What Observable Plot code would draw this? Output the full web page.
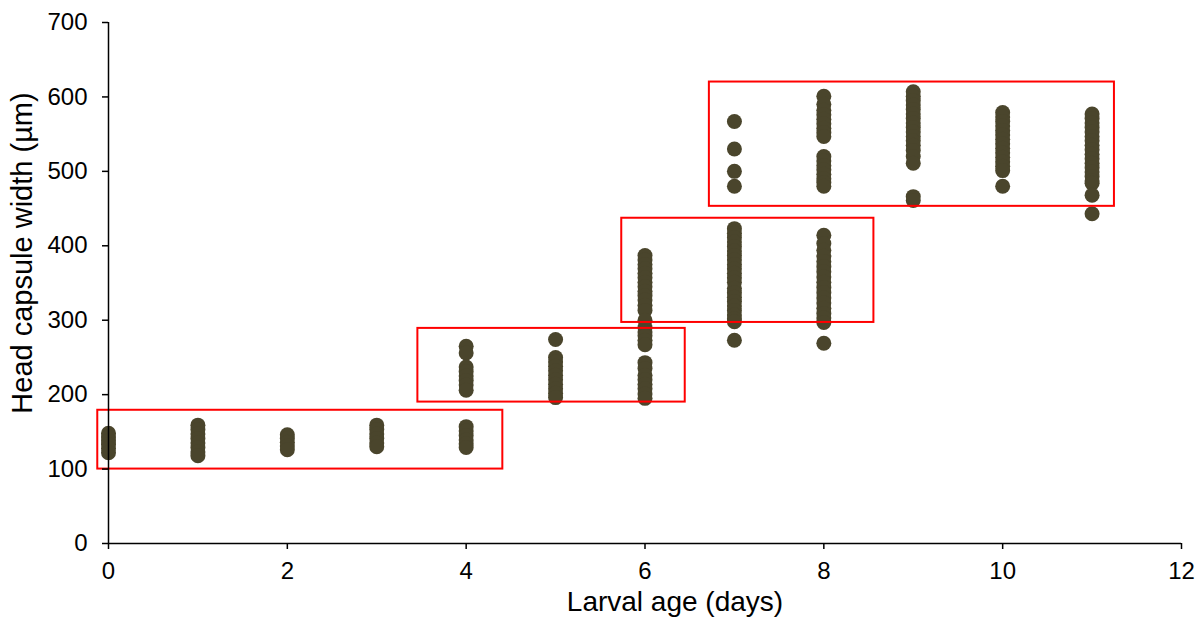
<!DOCTYPE html>
<html>
<head>
<meta charset="utf-8">
<script src="https://cdn.jsdelivr.net/npm/d3@7"></script>
<script src="https://cdn.jsdelivr.net/npm/@observablehq/plot@0.6"></script>
<style>
  html, body { margin: 0; padding: 0; background: #fff; }
  #chart { width: 1198px; height: 619px; }
</style>
</head>
<body>
<div id="chart"></div>
<script>
// Larval age (days) -> head capsule widths (µm)
const day0 = [148, 143, 138, 133, 128, 122];
const day1 = [159, 153, 147, 141, 135, 129, 123, 118];
const day2 = [146, 141, 136, 131, 126];
const day3 = [159, 153, 147, 141, 135, 130];
const day4 = [157, 151, 145, 139, 134, 129, 265, 256, 237, 231, 225, 219, 213, 206];
const day5 = [274, 250, 244, 238, 232, 226, 220, 214, 208, 202, 196];
const day6 = [387, 381, 375, 369, 363, 357, 351, 345, 339, 333, 327, 320, 313, 300, 290, 284, 279, 273, 267, 243, 235, 226, 220, 214, 208, 201, 195];
const day7 = [423, 417, 411, 405, 399, 393, 387, 381, 375, 369, 363, 357, 351, 343, 337, 331, 325, 319, 313, 307, 302, 298, 273, 567, 530, 500, 480];
const day8 = [414, 403, 394, 386, 379, 372, 365, 358, 351, 344, 337, 330, 323, 316, 309, 303, 297, 269, 601, 590, 582, 576, 570, 564, 558, 552, 547, 520, 514, 508, 502, 496, 490, 485, 480];
const day9 = [607, 601, 595, 589, 583, 577, 571, 565, 559, 553, 547, 541, 535, 528, 520, 511, 466, 461];
const day10 = [579, 573, 567, 561, 555, 549, 543, 537, 531, 525, 519, 513, 507, 501, 480];
const day11 = [577, 571, 565, 559, 553, 547, 541, 535, 529, 523, 517, 511, 505, 499, 493, 487, 484, 468, 443];
const series = [day0, day1, day2, day3, day4, day5, day6, day7, day8, day9, day10, day11];

// Highlight boxes (instar groups), in data units
const boxX1 = [-0.12, 3.46, 5.74, 6.72];
const boxX2 = [4.41, 6.45, 8.56, 11.25];
const boxY1 = [100, 190, 297, 453];
const boxY2 = [179, 289, 437, 620];

const xTicks = [0, 2, 4, 6, 8, 10, 12];
const yTicks = [0, 100, 200, 300, 400, 500, 600, 700];
const xLabel = "Larval age (days)";
const yLabel = "Head capsule width (µm)";

const points = series.flatMap((vals, age) => vals.map(v => ({age, width: v})));
const boxes = boxX1.map((x1, i) => ({x1, x2: boxX2[i], y1: boxY1[i], y2: boxY2[i]}));

const chart = Plot.plot({
  width: 1198,
  height: 619,
  marginLeft: 108,
  marginRight: 17,
  marginTop: 22,
  marginBottom: 76,
  style: {fontFamily: "'Liberation Sans', Arial, sans-serif", background: "#fff", color: "#000"},
  x: {domain: [0, 12], ticks: xTicks},
  y: {domain: [0, 700], ticks: yTicks},
  marks: [
    Plot.dot(points, {x: "age", y: "width", r: 7.5, fill: "#4a452c", stroke: "none"}),
    Plot.rect(boxes, {x1: "x1", x2: "x2", y1: "y1", y2: "y2", fill: "none", stroke: "#ff0000", strokeWidth: 2}),
    Plot.ruleY([0], {stroke: "#000", strokeWidth: 1.5}),
    Plot.ruleX([0], {stroke: "#000", strokeWidth: 1.5}),
    Plot.axisX({ticks: xTicks, tickSize: 6, tickPadding: 12, fontSize: 24, stroke: "#000", strokeWidth: 1.5, label: null}),
    Plot.axisY({ticks: yTicks, tickSize: 6, tickPadding: 15, fontSize: 24, stroke: "#000", strokeWidth: 1.5, label: null}),
    Plot.text([xLabel], {frameAnchor: "bottom", text: d => d, fontSize: 28, dx: 30, dy: 59, textAnchor: "middle", lineAnchor: "middle", fill: "#000"}),
    Plot.text([yLabel], {frameAnchor: "left", text: d => d, fontSize: 29, rotate: -90, dx: -86, dy: -30, textAnchor: "middle", lineAnchor: "middle", fill: "#000"})
  ]
});
document.getElementById("chart").appendChild(chart);
</script>
</body>
</html>
